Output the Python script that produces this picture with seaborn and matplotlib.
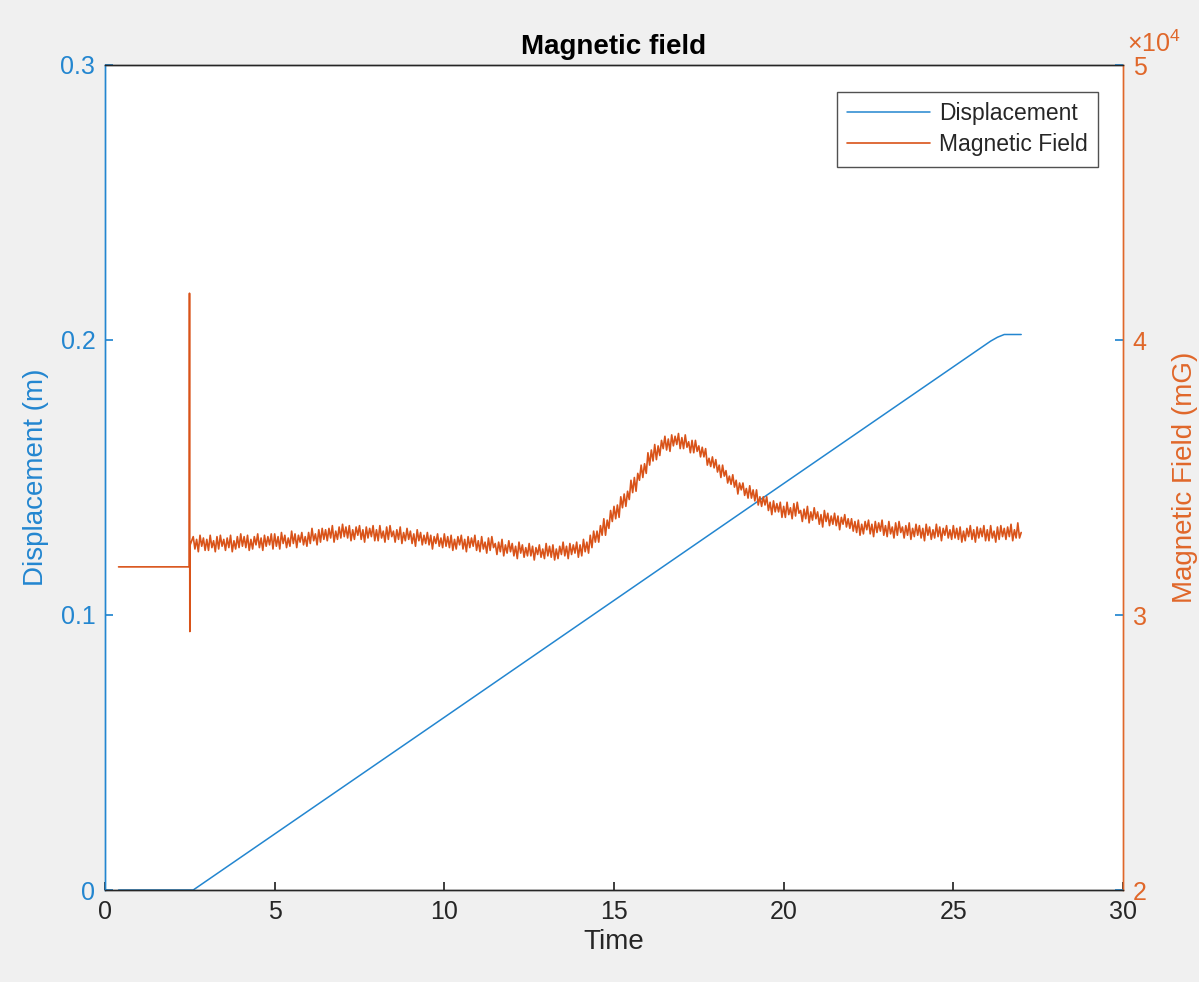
import numpy as np
import pandas as pd
import matplotlib
matplotlib.use("Agg")
import matplotlib.pyplot as plt
import matplotlib.transforms as mtransforms
from matplotlib.ticker import FuncFormatter, MultipleLocator
import seaborn as sns

# ---------------- data ----------------
disp_time = [0.4, 1.0, 2.0, 2.6, 10.0, 20.0, 26.1, 26.3, 26.5, 27.0]
disp_m = [0.0, 0.0, 0.0, 0.0, 0.0628, 0.1478, 0.1996, 0.2010, 0.2020, 0.2020]

# pre-trigger flat part and the spike (mG)
mag_pre_time = [0.40, 1.00, 2.00, 2.48, 2.49, 2.50, 2.51]
mag_pre_mG = [31750, 31750, 31750, 31750, 41700, 29400, 32550]

# sampled every 0.05 s from t = 2.6 s to 27.0 s (mG), one row per second
mag_rows = [
    [32850, 32400, 32750, 32300, 32900, 32500, 32800, 32350],
    [32750, 32350, 32900, 32450, 32700, 32300, 32850, 32400, 32900, 32500,
     32750, 32350, 32800, 32450, 32900, 32300, 32700, 32400, 32850, 32450],
    [32950, 32500, 32850, 32450, 32900, 32350, 32750, 32400, 32850, 32550,
     32950, 32450, 32800, 32350, 32900, 32500, 32850, 32550, 32950, 32400],
    [32950, 32500, 32850, 32400, 33000, 32600, 32900, 32450, 32800, 32500,
     33050, 32600, 32950, 32450, 32900, 32650, 33000, 32550, 32850, 32500],
    [33000, 32600, 33150, 32700, 32950, 32550, 33100, 32650, 33150, 32750,
     33100, 32700, 33150, 32800, 33250, 32650, 33050, 32750, 33200, 32800],
    [33300, 32850, 33200, 32800, 33250, 32700, 33100, 32750, 33200, 32900,
     33250, 32750, 33100, 32650, 33200, 32800, 33150, 32850, 33250, 32700],
    [33100, 32700, 33250, 32800, 33050, 32650, 33200, 32750, 33250, 32850,
     33050, 32650, 33100, 32750, 33200, 32600, 33000, 32700, 33150, 32750],
    [33050, 32600, 32950, 32500, 33100, 32700, 33000, 32550, 32900, 32600,
     33000, 32550, 32900, 32400, 32850, 32600, 32950, 32500, 32800, 32450],
    [32950, 32500, 32850, 32450, 32900, 32350, 32750, 32400, 32850, 32550,
     32900, 32400, 32750, 32300, 32850, 32450, 32800, 32500, 32900, 32350],
    [32700, 32300, 32850, 32400, 32650, 32250, 32800, 32350, 32850, 32450,
     32600, 32200, 32650, 32300, 32750, 32150, 32550, 32250, 32700, 32300],
    [32600, 32150, 32500, 32050, 32650, 32250, 32550, 32100, 32450, 32150,
     32600, 32150, 32500, 32000, 32450, 32200, 32550, 32100, 32400, 32050],
    [32600, 32150, 32500, 32100, 32550, 32000, 32400, 32050, 32500, 32200,
     32650, 32150, 32500, 32050, 32600, 32200, 32550, 32250, 32650, 32100],
    [32550, 32150, 32750, 32300, 32650, 32250, 32900, 32450, 33050, 32650,
     33050, 32650, 33250, 32900, 33500, 32900, 33450, 33150, 33800, 33400],
    [33950, 33500, 34000, 33550, 34300, 33900, 34400, 33950, 34500, 34200,
     34900, 34450, 35000, 34500, 35150, 34900, 35450, 35000, 35500, 35150],
    [35900, 35450, 36000, 35600, 36200, 35650, 36150, 35800, 36350, 36050,
     36500, 36000, 36400, 35950, 36550, 36150, 36500, 36200, 36600, 36050],
    [36450, 36050, 36550, 36100, 36300, 35900, 36350, 35900, 36350, 35950,
     36150, 35750, 36100, 35750, 36050, 35450, 35700, 35400, 35750, 35350],
    [35650, 35200, 35450, 35000, 35450, 35050, 35250, 34800, 35050, 34750,
     35100, 34650, 34900, 34400, 34800, 34550, 34800, 34350, 34600, 34250],
    [34700, 34250, 34550, 34150, 34550, 34000, 34300, 33950, 34300, 34000,
     34300, 33800, 34100, 33650, 34150, 33750, 34050, 33750, 34100, 33550],
    [33950, 33550, 34100, 33650, 33900, 33500, 34050, 33600, 34100, 33700,
     33800, 33400, 33850, 33500, 33950, 33350, 33750, 33450, 33900, 33500],
    [33750, 33300, 33650, 33200, 33800, 33400, 33700, 33250, 33600, 33300,
     33700, 33250, 33600, 33100, 33550, 33300, 33650, 33200, 33500, 33150],
    [33500, 33050, 33400, 33000, 33450, 32900, 33300, 32950, 33400, 33100,
     33450, 32950, 33300, 32850, 33400, 33000, 33350, 33050, 33450, 32900],
    [33250, 32850, 33400, 32950, 33200, 32800, 33350, 32900, 33400, 33000,
     33200, 32800, 33250, 32900, 33350, 32750, 33150, 32850, 33300, 32900],
    [33250, 32800, 33150, 32700, 33300, 32900, 33200, 32750, 33100, 32800,
     33300, 32850, 33200, 32700, 33150, 32900, 33250, 32800, 33100, 32750],
    [33250, 32800, 33150, 32750, 33200, 32650, 33050, 32700, 33150, 32850,
     33250, 32750, 33100, 32650, 33200, 32800, 33150, 32850, 33250, 32700],
    [33100, 32700, 33250, 32800, 33050, 32650, 33200, 32750, 33250, 32850,
     33150, 32750, 33200, 32850, 33300, 32700, 33100, 32800, 33350, 32800],
    [33000],
]

title = "Magnetic field"
x_label = "Time"
y_left_label = "Displacement (m)"
y_right_label = "Magnetic Field (mG)"
legend_labels = ["Displacement", "Magnetic Field"]
right_scale_exp = 4

# ---------------- build tables ----------------
mag_noisy = [v for row in mag_rows for v in row]
mag_noisy_time = [round(2.6 + 0.05 * i, 3) for i in range(len(mag_noisy))]
mag_df = pd.DataFrame({"t": mag_pre_time + mag_noisy_time,
                       "B": mag_pre_mG + mag_noisy})
disp_df = pd.DataFrame({"t": disp_time, "d": disp_m})

BLUE = "#2386D0"
ORANGE_LINE = "#D95319"
ORANGE = "#E0672A"
DARK = "#262626"

sns.set_theme(style="white")
plt.rcParams["font.family"] = ["Liberation Sans", "DejaVu Sans"]
plt.rcParams["mathtext.fontset"] = "custom"
plt.rcParams["mathtext.rm"] = "Liberation Sans"
plt.rcParams["mathtext.it"] = "Liberation Sans:italic"
plt.rcParams["mathtext.bf"] = "Liberation Sans:bold"
plt.rcParams["axes.linewidth"] = 1.0

fig = plt.figure(figsize=(11.99, 9.82), dpi=100, facecolor="#F0F0F0")
ax = fig.add_axes([105 / 1199, 1 - 890 / 982, (1123 - 105) / 1199, (890 - 65) / 982])
ax.set_facecolor("white")
ax2 = ax.twinx()

sns.lineplot(data=disp_df, x="t", y="d", ax=ax, color=BLUE, linewidth=1.1,
             label=legend_labels[0], legend=False, estimator=None, sort=False)
sns.lineplot(data=mag_df, x="t", y="B", ax=ax2, color=ORANGE_LINE, linewidth=1.2,
             label=legend_labels[1], legend=False, estimator=None, sort=False)

ax.set_xlim(0, 30)
ax.set_ylim(0, 0.3)
ax2.set_ylim(20000, 50000)
ax.xaxis.set_major_locator(MultipleLocator(5))
ax.yaxis.set_major_locator(MultipleLocator(0.1))
ax2.yaxis.set_major_locator(MultipleLocator(10000))

scale = 10 ** right_scale_exp
ax2.yaxis.set_major_formatter(FuncFormatter(lambda v, p: f"{v / scale:g}"))
ax.yaxis.set_major_formatter(FuncFormatter(lambda v, p: "0" if abs(v) < 1e-9 else f"{v:g}"))

# exponent label above the right axis
off_tr = mtransforms.offset_copy(ax2.transAxes, fig=fig, x=4, y=13, units="dots")
ax2.text(1.0, 1.0, r"$\times$10$^{%d}$" % right_scale_exp, transform=off_tr,
         ha="left", va="baseline", fontsize=18, color=ORANGE)

# spines
for a in (ax, ax2):
    a.spines["top"].set_color(DARK)
    a.spines["bottom"].set_color(DARK)
    a.spines["left"].set_color(BLUE)
    a.spines["right"].set_color(ORANGE)

ax.tick_params(axis="x", direction="in", length=6, colors=DARK, labelsize=18, pad=7,
               top=False, bottom=True)
ax.tick_params(axis="y", direction="in", length=6, color=BLUE, labelcolor=BLUE,
               labelsize=18, pad=7, left=True, right=False)
ax2.tick_params(axis="y", direction="in", length=6, color=BLUE, labelcolor=ORANGE,
                labelsize=18, pad=7, right=True, left=False)

ax.set_xlabel(x_label, fontsize=20, color=DARK, labelpad=4)
ax.set_ylabel(y_left_label, fontsize=20, color=BLUE, labelpad=8)
ax2.set_ylabel(y_right_label, fontsize=20, color=ORANGE, labelpad=18)
ax.set_title(title, fontsize=20, fontweight="bold", color="black", pad=8)

h1, l1 = ax.get_legend_handles_labels()
h2, l2 = ax2.get_legend_handles_labels()
leg = ax2.legend(h1 + h2, l1 + l2, loc="upper right",
                 bbox_to_anchor=((1098 - 105) / 1018, 1 - (92 - 65) / 825),
                 borderaxespad=0, fontsize=16.5, frameon=True, fancybox=False,
                 edgecolor=DARK, handlelength=3.6, handletextpad=0.4,
                 borderpad=0.45, labelspacing=0.35)
leg.get_frame().set_linewidth(1.0)
for t in leg.get_texts():
    t.set_color(DARK)

fig.savefig("out.png", dpi=100, facecolor=fig.get_facecolor())
